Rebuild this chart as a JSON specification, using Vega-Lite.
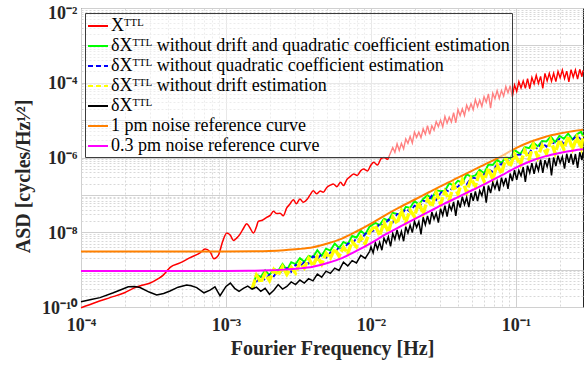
{
"$schema": "https://vega.github.io/schema/vega-lite/v6.json",
"width": 502, "height": 299,
"autosize": {"type": "none"},
"padding": {"left": 81, "top": 8, "right": 1, "bottom": 64},
"background": "white",
"datasets": {
"red": [{"f":0.0001,"v":9.55e-11},{"f":0.0001259,"v":1.32e-10},{"f":0.0001585,"v":1.78e-10},{"f":0.0001995,"v":2.40e-10},{"f":0.0002291,"v":3.16e-10},{"f":0.000263,"v":3.80e-10},{"f":0.0003,"v":4.37e-10},{"f":0.0003388,"v":5.62e-10},{"f":0.0003707,"v":7.24e-10},{"f":0.0003981,"v":1.0e-9},{"f":0.0004121,"v":1.15e-9},{"f":0.0004819,"v":1.51e-9},{"f":0.0005649,"v":2.09e-9},{"f":0.0006622,"v":2.82e-9},{"f":0.0007178,"v":3.55e-9},{"f":0.0007762,"v":3.02e-9},{"f":0.000826,"v":1.95e-9},{"f":0.0008851,"v":2.40e-9},{"f":0.0009484,"v":5.62e-9},{"f":0.001012,"v":9.55e-9},{"f":0.001072,"v":8.32e-9},{"f":0.001125,"v":6.03e-9},{"f":0.001189,"v":7.08e-9},{"f":0.00125,"v":8.91e-9},{"f":0.001318,"v":1.26e-8},{"f":0.00139,"v":1.70e-8},{"f":0.001462,"v":1.32e-8},{"f":0.001545,"v":9.55e-9},{"f":0.001622,"v":1.41e-8},{"f":0.001671,"v":1.95e-8},{"f":0.001778,"v":2.09e-8},{"f":0.00191,"v":2.51e-8},{"f":0.002018,"v":2.82e-8},{"f":0.002123,"v":3.63e-8},{"f":0.002239,"v":3.16e-8},{"f":0.00236,"v":3.24e-8},{"f":0.002483,"v":2.75e-8},{"f":0.002624,"v":4.47e-8},{"f":0.002754,"v":5.62e-8},{"f":0.002917,"v":7.41e-8},{"f":0.003055,"v":5.75e-8},{"f":0.003236,"v":7.76e-8},{"f":0.003412,"v":6.31e-8},{"f":0.003631,"v":7.59e-8},{"f":0.003802,"v":1.0e-7},{"f":0.004,"v":1.29e-7},{"f":0.004217,"v":1.07e-7},{"f":0.004467,"v":1.26e-7},{"f":0.004688,"v":1.17e-7},{"f":0.004955,"v":1.58e-7},{"f":0.005248,"v":1.82e-7},{"f":0.005495,"v":1.95e-7},{"f":0.005821,"v":1.66e-7},{"f":0.006166,"v":2.19e-7},{"f":0.006457,"v":1.78e-7},{"f":0.006839,"v":2.63e-7},{"f":0.007244,"v":3.16e-7},{"f":0.007586,"v":3.63e-7},{"f":0.008035,"v":3.31e-7},{"f":0.008511,"v":4.47e-7},{"f":0.008913,"v":4.90e-7},{"f":0.009441,"v":4.37e-7},{"f":0.01,"v":6.31e-7},{"f":0.01047,"v":7.41e-7},{"f":0.01109,"v":6.31e-7},{"f":0.01175,"v":9.33e-7},{"f":0.0123,"v":1.0e-6},{"f":0.01303,"v":8.71e-7}],
"redhf": [{"f":0.01303,"v":8.71e-7},{"f":0.01413,"v":1.86e-6},{"f":0.01462,"v":1.38e-6},{"f":0.01514,"v":2.34e-6},{"f":0.01567,"v":1.55e-6},{"f":0.01622,"v":2.40e-6},{"f":0.01679,"v":1.70e-6},{"f":0.01738,"v":3.16e-6},{"f":0.01799,"v":2.40e-6},{"f":0.01862,"v":3.63e-6},{"f":0.01928,"v":2.45e-6},{"f":0.01995,"v":4.79e-6},{"f":0.02065,"v":3.47e-6},{"f":0.02138,"v":4.79e-6},{"f":0.02213,"v":3.39e-6},{"f":0.02291,"v":5.89e-6},{"f":0.02371,"v":4.17e-6},{"f":0.02455,"v":7.08e-6},{"f":0.02541,"v":4.17e-6},{"f":0.0263,"v":7.08e-6},{"f":0.02723,"v":5.37e-6},{"f":0.02818,"v":9.12e-6},{"f":0.02917,"v":6.76e-6},{"f":0.0302,"v":1.0e-5},{"f":0.03126,"v":6.61e-6},{"f":0.03236,"v":1.26e-5},{"f":0.0335,"v":8.32e-6},{"f":0.03467,"v":1.20e-5},{"f":0.03589,"v":8.91e-6},{"f":0.03715,"v":1.58e-5},{"f":0.03846,"v":8.51e-6},{"f":0.03981,"v":1.91e-5},{"f":0.04121,"v":1.32e-5},{"f":0.04266,"v":2.00e-5},{"f":0.04416,"v":1.33e-5},{"f":0.04571,"v":2.51e-5},{"f":0.04732,"v":1.82e-5},{"f":0.04898,"v":2.75e-5},{"f":0.0507,"v":1.91e-5},{"f":0.05248,"v":3.55e-5},{"f":0.05433,"v":2.29e-5},{"f":0.05623,"v":3.47e-5},{"f":0.05821,"v":2.32e-5},{"f":0.06026,"v":4.27e-5},{"f":0.06237,"v":3.02e-5},{"f":0.06457,"v":5.01e-5},{"f":0.06683,"v":2.09e-5},{"f":0.06918,"v":5.25e-5},{"f":0.07161,"v":3.72e-5},{"f":0.07413,"v":6.17e-5},{"f":0.07674,"v":3.80e-5},{"f":0.07943,"v":6.17e-5},{"f":0.08222,"v":4.37e-5},{"f":0.08511,"v":7.94e-5},{"f":0.0881,"v":5.37e-5},{"f":0.0912,"v":8.32e-5},{"f":0.09441,"v":4.17e-5},{"f":0.09772,"v":8.71e-5},{"f":0.1012,"v":5.89e-5},{"f":0.1047,"v":1.07e-4},{"f":0.1084,"v":7.24e-5},{"f":0.1122,"v":1.12e-4},{"f":0.1161,"v":7.08e-5},{"f":0.1202,"v":1.29e-4},{"f":0.1245,"v":6.92e-5},{"f":0.1288,"v":1.38e-4},{"f":0.1334,"v":9.33e-5},{"f":0.138,"v":1.58e-4},{"f":0.1429,"v":9.55e-5},{"f":0.1479,"v":1.48e-4},{"f":0.1531,"v":7.08e-5},{"f":0.1585,"v":1.78e-4},{"f":0.1641,"v":1.12e-4},{"f":0.1698,"v":1.78e-4},{"f":0.1758,"v":1.10e-4},{"f":0.182,"v":1.80e-4},{"f":0.1884,"v":1.07e-4},{"f":0.195,"v":2.00e-4},{"f":0.2018,"v":1.35e-4},{"f":0.2089,"v":2.19e-4},{"f":0.2163,"v":1.29e-4},{"f":0.2239,"v":2.04e-4},{"f":0.2317,"v":1.05e-4},{"f":0.2399,"v":2.24e-4},{"f":0.2483,"v":1.41e-4},{"f":0.257,"v":2.19e-4},{"f":0.2661,"v":1.26e-4},{"f":0.2754,"v":2.29e-4},{"f":0.2851,"v":1.45e-4},{"f":0.29,"v":2.14e-4}],
"green": [{"f":0.001514,"v":3.02e-10},{"f":0.001622,"v":7.41e-10},{"f":0.001738,"v":6.31e-10},{"f":0.001862,"v":9.55e-10},{"f":0.001995,"v":7.08e-10},{"f":0.002138,"v":1.05e-9},{"f":0.002291,"v":9.33e-10},{"f":0.002455,"v":1.41e-9},{"f":0.00263,"v":9.77e-10},{"f":0.002818,"v":1.58e-9},{"f":0.00302,"v":1.41e-9},{"f":0.003236,"v":2.04e-9},{"f":0.003467,"v":1.62e-9},{"f":0.003715,"v":2.34e-9},{"f":0.003981,"v":2.14e-9},{"f":0.004266,"v":3.31e-9},{"f":0.004571,"v":2.34e-9},{"f":0.004898,"v":3.63e-9},{"f":0.005248,"v":3.24e-9},{"f":0.005623,"v":5.01e-9},{"f":0.006026,"v":3.80e-9},{"f":0.006457,"v":5.50e-9},{"f":0.006918,"v":4.79e-9},{"f":0.007413,"v":7.94e-9},{"f":0.007943,"v":7.24e-9},{"f":0.008511,"v":1.10e-8},{"f":0.00912,"v":8.71e-9},{"f":0.009772,"v":1.41e-8},{"f":0.01072,"v":1.78e-8},{"f":0.01148,"v":1.55e-8},{"f":0.0123,"v":2.29e-8},{"f":0.01318,"v":2.04e-8},{"f":0.01413,"v":3.31e-8},{"f":0.01514,"v":3.09e-8},{"f":0.01622,"v":2.95e-8},{"f":0.01738,"v":4.79e-8},{"f":0.01862,"v":4.47e-8},{"f":0.01995,"v":6.92e-8},{"f":0.02138,"v":5.50e-8},{"f":0.02291,"v":7.76e-8},{"f":0.02455,"v":9.77e-8},{"f":0.0263,"v":7.94e-8},{"f":0.02818,"v":1.32e-7},{"f":0.0302,"v":1.26e-7},{"f":0.03236,"v":1.29e-7},{"f":0.03467,"v":2.04e-7},{"f":0.03715,"v":1.78e-7},{"f":0.03981,"v":2.40e-7},{"f":0.04266,"v":2.09e-7},{"f":0.04571,"v":3.55e-7},{"f":0.04898,"v":3.09e-7},{"f":0.05248,"v":3.31e-7},{"f":0.05623,"v":4.68e-7},{"f":0.06026,"v":3.80e-7},{"f":0.06457,"v":6.46e-7},{"f":0.06918,"v":6.31e-7},{"f":0.07413,"v":8.71e-7},{"f":0.07943,"v":7.08e-7},{"f":0.08511,"v":1.02e-6},{"f":0.0912,"v":9.55e-7},{"f":0.09772,"v":1.58e-6},{"f":0.1072,"v":1.23e-6},{"f":0.1148,"v":1.91e-6},{"f":0.123,"v":1.78e-6},{"f":0.1318,"v":2.51e-6},{"f":0.1413,"v":2.00e-6},{"f":0.1514,"v":2.75e-6},{"f":0.1622,"v":2.69e-6},{"f":0.1738,"v":3.63e-6},{"f":0.1862,"v":2.57e-6},{"f":0.1995,"v":3.80e-6},{"f":0.2138,"v":3.16e-6},{"f":0.2291,"v":4.37e-6},{"f":0.2455,"v":3.02e-6},{"f":0.263,"v":4.17e-6},{"f":0.2818,"v":4.90e-6},{"f":0.29,"v":3.72e-6}],
"blue": [{"f":0.001514,"v":3.02e-10},{"f":0.001622,"v":4.79e-10},{"f":0.001738,"v":6.61e-10},{"f":0.001862,"v":5.25e-10},{"f":0.001995,"v":7.41e-10},{"f":0.002138,"v":6.61e-10},{"f":0.002291,"v":9.77e-10},{"f":0.002455,"v":8.51e-10},{"f":0.00263,"v":1.10e-9},{"f":0.002818,"v":8.71e-10},{"f":0.00302,"v":1.35e-9},{"f":0.003236,"v":1.20e-9},{"f":0.003467,"v":1.62e-9},{"f":0.003715,"v":1.45e-9},{"f":0.003981,"v":2.29e-9},{"f":0.004266,"v":1.95e-9},{"f":0.004571,"v":2.57e-9},{"f":0.004898,"v":2.09e-9},{"f":0.005248,"v":2.88e-9},{"f":0.005623,"v":2.75e-9},{"f":0.006026,"v":4.07e-9},{"f":0.006457,"v":3.39e-9},{"f":0.006918,"v":5.01e-9},{"f":0.007413,"v":4.90e-9},{"f":0.007943,"v":6.92e-9},{"f":0.008511,"v":6.03e-9},{"f":0.00912,"v":9.12e-9},{"f":0.009772,"v":1.0e-8},{"f":0.01072,"v":1.15e-8},{"f":0.01148,"v":1.74e-8},{"f":0.0123,"v":1.45e-8},{"f":0.01318,"v":2.19e-8},{"f":0.01413,"v":1.82e-8},{"f":0.01514,"v":3.09e-8},{"f":0.01622,"v":2.95e-8},{"f":0.01738,"v":4.27e-8},{"f":0.01862,"v":3.55e-8},{"f":0.01995,"v":5.13e-8},{"f":0.02138,"v":4.37e-8},{"f":0.02291,"v":6.92e-8},{"f":0.02455,"v":6.61e-8},{"f":0.0263,"v":9.55e-8},{"f":0.02818,"v":7.24e-8},{"f":0.0302,"v":1.12e-7},{"f":0.03236,"v":1.41e-7},{"f":0.03467,"v":1.20e-7},{"f":0.03715,"v":1.74e-7},{"f":0.03981,"v":1.62e-7},{"f":0.04266,"v":2.51e-7},{"f":0.04571,"v":1.91e-7},{"f":0.04898,"v":2.88e-7},{"f":0.05248,"v":2.82e-7},{"f":0.05623,"v":4.07e-7},{"f":0.06026,"v":3.47e-7},{"f":0.06457,"v":4.79e-7},{"f":0.06918,"v":4.17e-7},{"f":0.07413,"v":6.76e-7},{"f":0.07943,"v":6.46e-7},{"f":0.08511,"v":9.12e-7},{"f":0.0912,"v":7.76e-7},{"f":0.09772,"v":1.17e-6},{"f":0.1072,"v":1.20e-6},{"f":0.1148,"v":1.66e-6},{"f":0.123,"v":1.29e-6},{"f":0.1318,"v":1.91e-6},{"f":0.1413,"v":1.70e-6},{"f":0.1514,"v":2.51e-6},{"f":0.1622,"v":1.95e-6},{"f":0.1738,"v":2.57e-6},{"f":0.1862,"v":2.34e-6},{"f":0.1995,"v":3.16e-6},{"f":0.2138,"v":2.29e-6},{"f":0.2291,"v":3.39e-6},{"f":0.2455,"v":2.95e-6},{"f":0.263,"v":3.89e-6},{"f":0.2818,"v":3.02e-6},{"f":0.29,"v":3.72e-6}],
"yellow": [{"f":0.001514,"v":3.02e-10},{"f":0.001622,"v":7.08e-10},{"f":0.001738,"v":4.57e-10},{"f":0.001862,"v":7.76e-10},{"f":0.001995,"v":5.13e-10},{"f":0.002138,"v":1.0e-9},{"f":0.002291,"v":7.08e-10},{"f":0.002455,"v":1.20e-9},{"f":0.00263,"v":7.41e-10},{"f":0.002818,"v":1.15e-9},{"f":0.00302,"v":8.13e-10},{"f":0.003236,"v":1.55e-9},{"f":0.003467,"v":1.10e-9},{"f":0.003715,"v":2.00e-9},{"f":0.003981,"v":1.26e-9},{"f":0.004266,"v":2.24e-9},{"f":0.004571,"v":1.41e-9},{"f":0.004898,"v":2.75e-9},{"f":0.005248,"v":2.04e-9},{"f":0.005623,"v":3.63e-9},{"f":0.006026,"v":2.29e-9},{"f":0.006457,"v":3.98e-9},{"f":0.006918,"v":2.75e-9},{"f":0.007413,"v":5.62e-9},{"f":0.007943,"v":4.07e-9},{"f":0.008511,"v":7.41e-9},{"f":0.00912,"v":4.90e-9},{"f":0.009772,"v":1.02e-8},{"f":0.01072,"v":1.51e-8},{"f":0.01148,"v":8.13e-9},{"f":0.0123,"v":1.82e-8},{"f":0.01318,"v":1.02e-8},{"f":0.01413,"v":2.57e-8},{"f":0.01514,"v":1.70e-8},{"f":0.01622,"v":3.80e-8},{"f":0.01738,"v":1.86e-8},{"f":0.01862,"v":3.89e-8},{"f":0.01995,"v":2.63e-8},{"f":0.02138,"v":6.31e-8},{"f":0.02291,"v":3.09e-8},{"f":0.02455,"v":7.59e-8},{"f":0.0263,"v":4.90e-8},{"f":0.02818,"v":1.17e-7},{"f":0.0302,"v":5.75e-8},{"f":0.03236,"v":1.23e-7},{"f":0.03467,"v":7.24e-8},{"f":0.03715,"v":1.82e-7},{"f":0.03981,"v":1.05e-7},{"f":0.04266,"v":2.51e-7},{"f":0.04571,"v":1.17e-7},{"f":0.04898,"v":2.75e-7},{"f":0.05248,"v":1.70e-7},{"f":0.05623,"v":4.27e-7},{"f":0.06026,"v":2.34e-7},{"f":0.06457,"v":5.13e-7},{"f":0.06918,"v":2.63e-7},{"f":0.07413,"v":6.31e-7},{"f":0.07943,"v":3.72e-7},{"f":0.08511,"v":9.55e-7},{"f":0.0912,"v":5.75e-7},{"f":0.09772,"v":1.23e-6},{"f":0.1072,"v":6.46e-7},{"f":0.1148,"v":1.55e-6},{"f":0.123,"v":8.91e-7},{"f":0.1318,"v":2.24e-6},{"f":0.1413,"v":1.01e-6},{"f":0.1514,"v":2.09e-6},{"f":0.1622,"v":1.26e-6},{"f":0.1738,"v":2.88e-6},{"f":0.1862,"v":1.29e-6},{"f":0.1995,"v":2.95e-6},{"f":0.2138,"v":1.66e-6},{"f":0.2291,"v":3.72e-6},{"f":0.2455,"v":1.70e-6},{"f":0.263,"v":3.47e-6},{"f":0.2818,"v":1.78e-6},{"f":0.29,"v":3.89e-6}],
"black": [{"f":0.0001,"v":1.38e-10},{"f":0.0001175,"v":1.58e-10},{"f":0.0001352,"v":1.78e-10},{"f":0.0001671,"v":2.40e-10},{"f":0.0001905,"v":2.95e-10},{"f":0.0002118,"v":3.47e-10},{"f":0.0002344,"v":3.55e-10},{"f":0.0002553,"v":3.31e-10},{"f":0.0002951,"v":2.51e-10},{"f":0.0003327,"v":2.09e-10},{"f":0.0003715,"v":2.29e-10},{"f":0.0004111,"v":2.69e-10},{"f":0.0004677,"v":3.39e-10},{"f":0.0005358,"v":3.89e-10},{"f":0.0005754,"v":3.72e-10},{"f":0.0006281,"v":3.31e-10},{"f":0.0007047,"v":2.40e-10},{"f":0.0007762,"v":2.82e-10},{"f":0.0008395,"v":3.47e-10},{"f":0.0009099,"v":2.00e-10},{"f":0.001,"v":3.55e-10},{"f":0.001072,"v":4.37e-10},{"f":0.001148,"v":3.16e-10},{"f":0.00123,"v":2.63e-10},{"f":0.001318,"v":3.16e-10},{"f":0.001413,"v":3.63e-10},{"f":0.001514,"v":3.02e-10},{"f":0.001622,"v":3.39e-10},{"f":0.001738,"v":2.63e-10},{"f":0.001862,"v":3.16e-10},{"f":0.001995,"v":2.19e-10},{"f":0.002138,"v":2.82e-10},{"f":0.002291,"v":3.98e-10},{"f":0.002455,"v":3.02e-10},{"f":0.00263,"v":3.55e-10},{"f":0.002818,"v":4.68e-10},{"f":0.00302,"v":3.98e-10},{"f":0.003236,"v":5.25e-10},{"f":0.003467,"v":4.37e-10},{"f":0.003715,"v":5.75e-10},{"f":0.003981,"v":5.01e-10},{"f":0.004266,"v":7.59e-10},{"f":0.004571,"v":6.31e-10},{"f":0.004898,"v":9.12e-10},{"f":0.005248,"v":7.94e-10},{"f":0.005623,"v":1.10e-9},{"f":0.006026,"v":9.55e-10},{"f":0.006457,"v":1.58e-9},{"f":0.006918,"v":1.26e-9},{"f":0.007413,"v":1.74e-9},{"f":0.007943,"v":1.51e-9},{"f":0.008511,"v":2.40e-9},{"f":0.00912,"v":2.00e-9},{"f":0.009772,"v":3.02e-9}],
"blackhf": [{"f":0.009772,"v":3.02e-9},{"f":0.01,"v":4.07e-9},{"f":0.01035,"v":2.82e-9},{"f":0.01072,"v":5.25e-9},{"f":0.01109,"v":3.55e-9},{"f":0.01148,"v":5.37e-9},{"f":0.01189,"v":3.31e-9},{"f":0.0123,"v":6.92e-9},{"f":0.01274,"v":5.13e-9},{"f":0.01318,"v":7.59e-9},{"f":0.01365,"v":4.17e-9},{"f":0.01413,"v":9.33e-9},{"f":0.01462,"v":6.46e-9},{"f":0.01514,"v":1.15e-8},{"f":0.01567,"v":6.76e-9},{"f":0.01622,"v":1.05e-8},{"f":0.01679,"v":5.75e-9},{"f":0.01738,"v":1.41e-8},{"f":0.01799,"v":9.55e-9},{"f":0.01862,"v":1.55e-8},{"f":0.01928,"v":9.77e-9},{"f":0.01995,"v":1.95e-8},{"f":0.02065,"v":1.35e-8},{"f":0.02138,"v":1.91e-8},{"f":0.02213,"v":8.71e-9},{"f":0.02291,"v":2.51e-8},{"f":0.02371,"v":1.58e-8},{"f":0.02455,"v":2.75e-8},{"f":0.02541,"v":1.62e-8},{"f":0.0263,"v":3.47e-8},{"f":0.02723,"v":2.24e-8},{"f":0.02818,"v":3.24e-8},{"f":0.02917,"v":1.82e-8},{"f":0.0302,"v":4.27e-8},{"f":0.03126,"v":2.82e-8},{"f":0.03236,"v":5.13e-8},{"f":0.0335,"v":2.63e-8},{"f":0.03467,"v":5.37e-8},{"f":0.03589,"v":3.89e-8},{"f":0.03715,"v":6.46e-8},{"f":0.03846,"v":2.75e-8},{"f":0.03981,"v":7.08e-8},{"f":0.04121,"v":4.57e-8},{"f":0.04266,"v":8.91e-8},{"f":0.04416,"v":5.50e-8},{"f":0.04571,"v":8.51e-8},{"f":0.04732,"v":4.68e-8},{"f":0.04898,"v":1.12e-7},{"f":0.0507,"v":6.92e-8},{"f":0.05248,"v":1.23e-7},{"f":0.05433,"v":6.85e-8},{"f":0.05623,"v":1.29e-7},{"f":0.05821,"v":9.55e-8},{"f":0.06026,"v":1.70e-7},{"f":0.06237,"v":6.17e-8},{"f":0.06457,"v":1.78e-7},{"f":0.06683,"v":1.12e-7},{"f":0.06918,"v":2.14e-7},{"f":0.07161,"v":1.48e-7},{"f":0.07413,"v":2.29e-7},{"f":0.07674,"v":1.26e-7},{"f":0.07943,"v":2.88e-7},{"f":0.08222,"v":1.82e-7},{"f":0.08511,"v":2.82e-7},{"f":0.0881,"v":1.45e-7},{"f":0.0912,"v":3.72e-7},{"f":0.09441,"v":2.34e-7},{"f":0.09772,"v":4.57e-7},{"f":0.1012,"v":2.51e-7},{"f":0.1047,"v":4.47e-7},{"f":0.1084,"v":3.24e-7},{"f":0.1122,"v":5.50e-7},{"f":0.1161,"v":2.24e-7},{"f":0.1202,"v":6.03e-7},{"f":0.1245,"v":3.89e-7},{"f":0.1288,"v":7.08e-7},{"f":0.1334,"v":3.63e-7},{"f":0.138,"v":6.76e-7},{"f":0.1429,"v":4.47e-7},{"f":0.1479,"v":8.71e-7},{"f":0.1531,"v":3.89e-7},{"f":0.1585,"v":8.51e-7},{"f":0.1641,"v":5.62e-7},{"f":0.1698,"v":9.77e-7},{"f":0.1758,"v":3.31e-7},{"f":0.182,"v":1.01e-6},{"f":0.1884,"v":5.89e-7},{"f":0.195,"v":1.12e-6},{"f":0.2018,"v":7.08e-7},{"f":0.2089,"v":1.05e-6},{"f":0.2163,"v":5.01e-7},{"f":0.2239,"v":1.26e-6},{"f":0.2317,"v":7.16e-7},{"f":0.2399,"v":1.25e-6},{"f":0.2483,"v":6.46e-7},{"f":0.257,"v":1.24e-6},{"f":0.2661,"v":5.25e-7},{"f":0.2754,"v":1.38e-6},{"f":0.2851,"v":8.51e-7},{"f":0.29,"v":1.38e-6}],
"orange": [{"f":0.0001,"v":3.05e-9},{"f":0.001,"v":3.05e-9},{"f":0.001585,"v":3.09e-9},{"f":0.001995,"v":3.16e-9},{"f":0.002512,"v":3.31e-9},{"f":0.003162,"v":3.55e-9},{"f":0.003981,"v":3.98e-9},{"f":0.005012,"v":5.01e-9},{"f":0.00631,"v":6.76e-9},{"f":0.007943,"v":1.047e-8},{"f":0.01,"v":1.70e-8},{"f":0.01259,"v":2.88e-8},{"f":0.01585,"v":4.68e-8},{"f":0.01995,"v":7.41e-8},{"f":0.02512,"v":1.175e-7},{"f":0.03162,"v":1.86e-7},{"f":0.03981,"v":2.88e-7},{"f":0.05012,"v":4.47e-7},{"f":0.0631,"v":6.92e-7},{"f":0.07943,"v":1.096e-6},{"f":0.1,"v":1.78e-6},{"f":0.1259,"v":2.63e-6},{"f":0.1585,"v":3.55e-6},{"f":0.1995,"v":4.37e-6},{"f":0.2512,"v":5.13e-6},{"f":0.29,"v":5.50e-6}],
"magenta": [{"f":0.0001,"v":9.23e-10},{"f":0.001,"v":9.23e-10},{"f":0.001585,"v":9.33e-10},{"f":0.001995,"v":9.55e-10},{"f":0.002512,"v":1.0e-9},{"f":0.003162,"v":1.07e-9},{"f":0.003981,"v":1.20e-9},{"f":0.005012,"v":1.51e-9},{"f":0.00631,"v":2.04e-9},{"f":0.007943,"v":3.16e-9},{"f":0.01,"v":5.13e-9},{"f":0.01259,"v":8.71e-9},{"f":0.01585,"v":1.41e-8},{"f":0.01995,"v":2.24e-8},{"f":0.02512,"v":3.55e-8},{"f":0.03162,"v":5.62e-8},{"f":0.03981,"v":8.71e-8},{"f":0.05012,"v":1.35e-7},{"f":0.0631,"v":2.09e-7},{"f":0.07943,"v":3.31e-7},{"f":0.1,"v":5.37e-7},{"f":0.1259,"v":7.94e-7},{"f":0.1585,"v":1.07e-6},{"f":0.1995,"v":1.32e-6},{"f":0.2512,"v":1.55e-6},{"f":0.29,"v":1.66e-6}]
},
"encoding": {
"x": {"field": "f", "type": "quantitative",
 "scale": {"type": "log", "domain": [0.0001, 0.29], "nice": false, "zero": false},
 "axis": {"title": "Fourier Frequency [Hz]",
  "values": [0.0001,0.0002,0.0003,0.0004,0.0005,0.0006,0.0007,0.0008,0.0009,0.001,0.002,0.003,0.004,0.005,0.006,0.007,0.008,0.009,0.01,0.02,0.03,0.04,0.05,0.06,0.07,0.08,0.09,0.1,0.2],
  "labelExpr": "datum.value === 0.0001 ? '10⁻⁴' : datum.value === 0.001 ? '10⁻³' : datum.value === 0.01 ? '10⁻²' : datum.value === 0.1 ? '10⁻¹' : ''",
  "gridColor": {"condition": {"test": "indexof([0.0001,0.001,0.01,0.1], datum.value) >= 0", "value": "#d0d0d0"}, "value": "#d8d8d8"},
  "gridDash": {"condition": {"test": "indexof([0.0001,0.001,0.01,0.1], datum.value) >= 0", "value": []}, "value": [2, 2]},
  "labelPadding": 9, "titlePadding": 4}},
"y": {"field": "v", "type": "quantitative",
 "scale": {"type": "log", "domain": [1e-10, 0.01], "nice": false, "zero": false},
 "axis": {"title": "ASD [cycles/Hz¹⁄²]", "titleFontSize": 20, "titleY": 168,
  "values": [1e-10,2e-10,3e-10,4e-10,5e-10,6e-10,7e-10,8e-10,9e-10,1e-9,2e-9,3e-9,4e-9,5e-9,6e-9,7e-9,8e-9,9e-9,1e-8,2e-8,3e-8,4e-8,5e-8,6e-8,7e-8,8e-8,9e-8,1e-7,2e-7,3e-7,4e-7,5e-7,6e-7,7e-7,8e-7,9e-7,1e-6,2e-6,3e-6,4e-6,5e-6,6e-6,7e-6,8e-6,9e-6,1e-5,2e-5,3e-5,4e-5,5e-5,6e-5,7e-5,8e-5,9e-5,0.0001,0.0002,0.0003,0.0004,0.0005,0.0006,0.0007,0.0008,0.0009,0.001,0.002,0.003,0.004,0.005,0.006,0.007,0.008,0.009,0.01],
  "labelExpr": "datum.value === 1e-10 ? '10⁻¹⁰' : datum.value === 1e-8 ? '10⁻⁸' : datum.value === 1e-6 ? '10⁻⁶' : datum.value === 0.0001 ? '10⁻⁴' : datum.value === 0.01 ? '10⁻²' : ''",
  "labelOffset": {"condition": {"test": "datum.value === 0.01", "value": 5}, "value": 1},
  "gridColor": {"condition": {"test": "indexof([1e-10,1e-9,1e-8,1e-7,1e-6,1e-5,0.0001,0.001,0.01], datum.value) >= 0", "value": "#d0d0d0"}, "value": "#d8d8d8"},
  "gridDash": {"condition": {"test": "indexof([1e-10,1e-9,1e-8,1e-7,1e-6,1e-5,0.0001,0.001,0.01], datum.value) >= 0", "value": []}, "value": [2, 2]},
  "labelPadding": 4, "titlePadding": 8}}
},
"layer": [
{"data": {"name": "red"}, "mark": {"type": "line", "strokeWidth": 1.5, "interpolate": "monotone"},
 "encoding": {"color": {"datum": "Xᵀᵀᴸ", "type": "nominal",
  "scale": {"domain": ["Xᵀᵀᴸ", "δXᵀᵀᴸ without drift and quadratic coefficient estimation", "δXᵀᵀᴸ without quadratic coefficient estimation", "δXᵀᵀᴸ without drift estimation", "δXᵀᵀᴸ", "1 pm noise reference curve", "0.3 pm noise reference curve"],
   "range": ["#ff0000", "#00ff00", "#0000ff", "#ffff00", "#000000", "#ff8000", "#ff00ff"]},
  "legend": {"title": null, "orient": "none", "legendX": 4, "legendY": 5, "direction": "vertical",
   "fillColor": "rgba(255,255,255,0.5)", "strokeColor": "#3c3c3c", "padding": 2,
   "labelFont": "Liberation Serif", "labelFontSize": 18, "labelColor": "#000000", "labelLimit": 600, "labelOffset": 2,
   "symbolType": "stroke", "symbolSize": 400, "symbolStrokeWidth": 2, "rowPadding": 0,
   "encode": {"symbols": {"update": {"strokeDash": {"signal": "indexof(datum.value, 'without quadratic') >= 0 || indexof(datum.value, 'without drift estimation') >= 0 ? [5, 3] : []"}}}}}}}},
{"data": {"name": "redhf"}, "mark": {"type": "line", "strokeWidth": 1.4}, "encoding": {"color": {"datum": "Xᵀᵀᴸ", "type": "nominal"}}},
{"data": {"name": "green"}, "mark": {"type": "line", "strokeWidth": 1.9}, "encoding": {"color": {"datum": "δXᵀᵀᴸ without drift and quadratic coefficient estimation", "type": "nominal"}}},
{"data": {"name": "blue"}, "mark": {"type": "line", "strokeWidth": 1.8, "strokeDash": [5, 3]}, "encoding": {"color": {"datum": "δXᵀᵀᴸ without quadratic coefficient estimation", "type": "nominal"}}},
{"data": {"name": "yellow"}, "mark": {"type": "line", "strokeWidth": 3.4, "strokeDash": [10, 2]}, "encoding": {"color": {"datum": "δXᵀᵀᴸ without drift estimation", "type": "nominal"}}},
{"data": {"name": "black"}, "mark": {"type": "line", "strokeWidth": 1.5}, "encoding": {"color": {"datum": "δXᵀᵀᴸ", "type": "nominal"}}},
{"data": {"name": "blackhf"}, "mark": {"type": "line", "strokeWidth": 1.5}, "encoding": {"color": {"datum": "δXᵀᵀᴸ", "type": "nominal"}}},
{"data": {"name": "orange"}, "mark": {"type": "line", "strokeWidth": 2, "interpolate": "monotone"}, "encoding": {"color": {"datum": "1 pm noise reference curve", "type": "nominal"}}},
{"data": {"name": "magenta"}, "mark": {"type": "line", "strokeWidth": 2, "interpolate": "monotone"}, "encoding": {"color": {"datum": "0.3 pm noise reference curve", "type": "nominal"}}}
],
"config": {
 "view": {"stroke": "#262626", "strokeWidth": 1},
 "axis": {"labelFont": "Liberation Serif", "labelFontWeight": "bold", "labelFontSize": 18, "labelColor": "#262626",
  "titleFont": "Liberation Serif", "titleFontWeight": "bold", "titleFontSize": 20, "titleColor": "#262626",
  "domain": false, "ticks": false, "labelOverlap": false, "labelFlush": false, "grid": true, "gridWidth": 1}
}
}
